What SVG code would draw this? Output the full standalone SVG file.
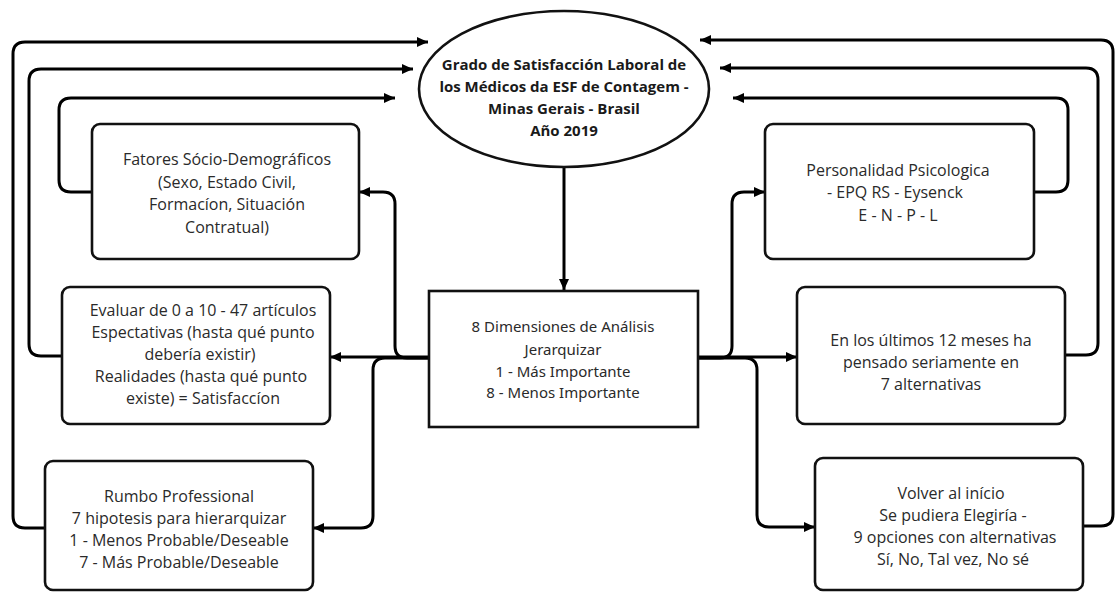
<svg xmlns="http://www.w3.org/2000/svg" width="1115" height="593" viewBox="0 0 1115 593">
<defs>
<marker id="ah" markerUnits="userSpaceOnUse" markerWidth="12" markerHeight="12" refX="11" refY="6" orient="auto">
<path d="M0,1 L11,6 L0,11 z" fill="#000"/>
</marker>
<style>
.box{fill:#fff;stroke:#111;stroke-width:2.6}
.t{font-family:"Open Sans","Liberation Sans",sans-serif;font-size:16px;fill:#2a2a2a;text-anchor:middle}
.tc{font-family:"Noto Sans","Open Sans",sans-serif;font-size:15px;fill:#2a2a2a;text-anchor:middle}
.tb{font-family:"Open Sans","Liberation Sans",sans-serif;font-size:15px;font-weight:bold;fill:#1a1a1a;text-anchor:middle}
.c{fill:none;stroke:#000;stroke-width:3}
.a{marker-end:url(#ah)}
</style>
</defs>
<rect width="1115" height="593" fill="#fff"/>
<g id="connectors">
<path class="c a" d="M45,528 H25 Q13,528 13,516 V54 Q13,42 25,42 H428"/>
<path class="c a" d="M62,356 H41 Q29,356 29,344 V81 Q29,69 41,69 H413"/>
<path class="c a" d="M92,192 H71 Q59,192 59,180 V110 Q59,98 71,98 H395"/>
<path class="c a" d="M1083,526 H1101 Q1113,526 1113,514 V52 Q1113,40 1101,40 H700"/>
<path class="c a" d="M1065,355 H1086 Q1098,355 1098,343 V80 Q1098,68 1086,68 H720"/>
<path class="c a" d="M1034,192 H1056 Q1068,192 1068,180 V110 Q1068,98 1056,98 H733"/>
<path class="c a" d="M564,167 V290"/>
<path class="c a" d="M429,357 H330"/>
<path class="c a" d="M429,358 H407 Q395,358 395,346 V204 Q395,192 383,192 H359"/>
<path class="c a" d="M429,358 H385 Q373,358 373,370 V516 Q373,528 361,528 H313"/>
<path class="c a" d="M698,357 H797"/>
<path class="c a" d="M698,358 H720 Q732,358 732,346 V204 Q732,192 744,192 H765"/>
<path class="c a" d="M698,358 H745 Q757,358 757,370 V515 Q757,527 769,527 H815"/>
</g>
<g id="main">
<ellipse cx="564" cy="89" rx="145" ry="78" fill="#fff" stroke="#111" stroke-width="2.6"/>
<text class="tb" x="564" y="70">Grado de Satisfacción Laboral de</text>
<text class="tb" x="564" y="92">los Médicos da ESF de Contagem -</text>
<text class="tb" x="564" y="114">Minas Gerais - Brasil</text>
<text class="tb" x="564" y="136">Año 2019</text>
</g>
<g id="fatores">
<rect class="box" x="92" y="124" width="267" height="135" rx="8"/>
<text class="t" x="227" y="165">Fatores Sócio-Demográficos</text>
<text class="t" x="227" y="188">(Sexo, Estado Civil,</text>
<text class="t" x="227" y="210">Formacíon, Situación</text>
<text class="t" x="227" y="233">Contratual)</text>
</g>
<g id="evaluar">
<rect class="box" x="62" y="287" width="268" height="137" rx="8"/>
<text class="t" x="203" y="316">Evaluar de 0 a 10 - 47 artículos</text>
<text class="t" x="203" y="338">Espectativas (hasta qué punto</text>
<text class="t" x="200" y="360">debería existir)</text>
<text class="t" x="201" y="382">Realidades (hasta qué punto</text>
<text class="t" x="203" y="404">existe) = Satisfaccíon</text>
</g>
<g id="rumbo">
<rect class="box" x="45" y="461" width="268" height="129" rx="8"/>
<text class="t" x="179" y="502">Rumbo Professional</text>
<text class="t" x="179" y="524">7 hipotesis para hierarquizar</text>
<text class="t" x="179" y="546">1 - Menos Probable/Deseable</text>
<text class="t" x="179" y="568">7 - Más Probable/Deseable</text>
</g>
<g id="dimensiones">
<rect x="429" y="291" width="269" height="136" fill="#fff" stroke="#111" stroke-width="2.6"/>
<text class="tc" x="563" y="332">8 Dimensiones de Análisis</text>
<text class="tc" x="563" y="355">Jerarquizar</text>
<text class="tc" x="563" y="377">1 - Más Importante</text>
<text class="tc" x="563" y="398">8 - Menos Importante</text>
</g>
<g id="personalidad">
<rect class="box" x="765" y="124" width="269" height="135" rx="8"/>
<text class="t" x="898" y="176">Personalidad Psicologica</text>
<text class="t" x="895" y="198">- EPQ RS - Eysenck</text>
<text class="t" x="898" y="221">E - N - P - L</text>
</g>
<g id="ultimos">
<rect class="box" x="797" y="287" width="268" height="137" rx="8"/>
<text class="t" x="931" y="346">En los últimos 12 meses ha</text>
<text class="t" x="931" y="368">pensado seriamente en</text>
<text class="t" x="931" y="390">7 alternativas</text>
</g>
<g id="volver">
<rect class="box" x="815" y="458" width="268" height="132" rx="8"/>
<text class="t" x="951" y="499">Volver al início</text>
<text class="t" x="953" y="521">Se pudiera Elegiría -</text>
<text class="t" x="955" y="543">9 opciones con alternativas</text>
<text class="t" x="953" y="565">Sí, No, Tal vez, No sé</text>
</g>
</svg>
